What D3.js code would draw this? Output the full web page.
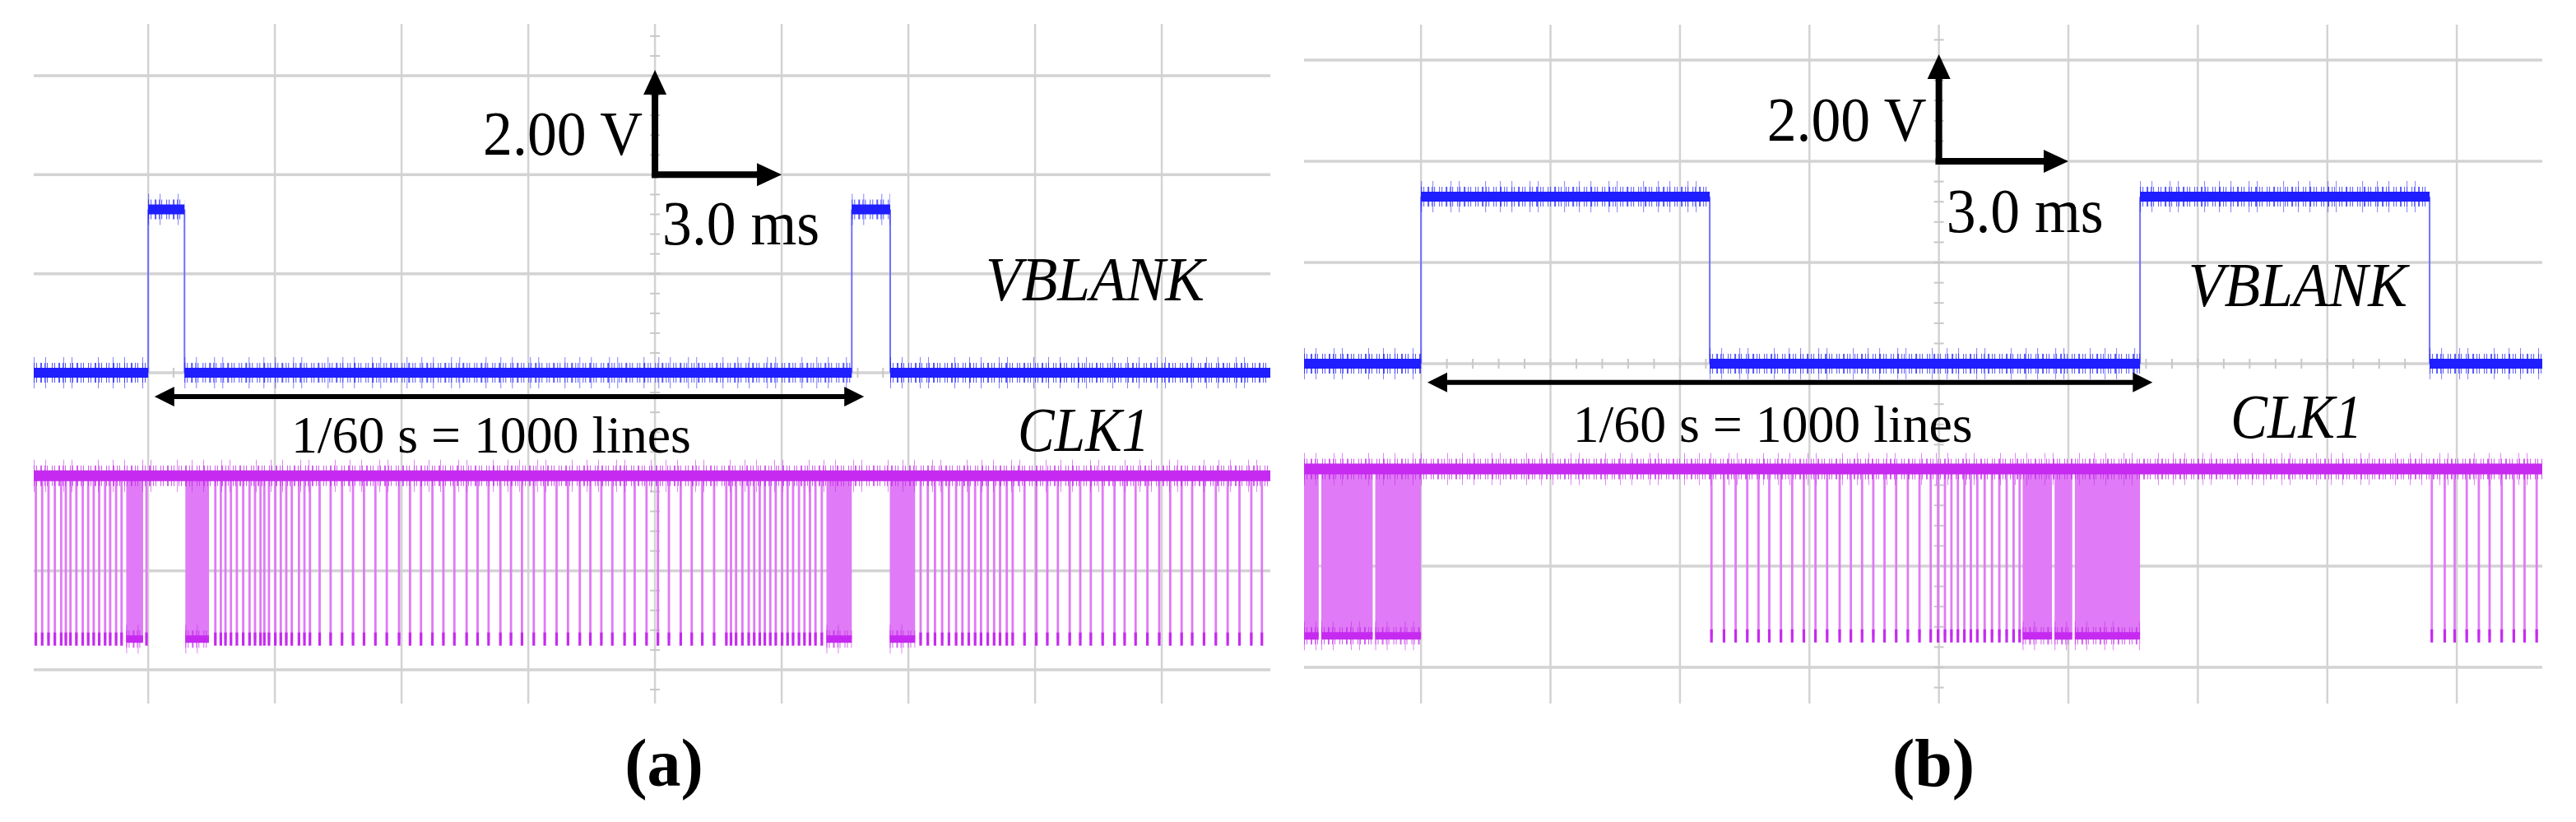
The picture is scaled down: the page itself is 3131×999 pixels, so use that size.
<!DOCTYPE html>
<html>
<head>
<meta charset="utf-8">
<script src="https://d3js.org/d3.v7.min.js"></script>
<style>
  body { margin: 0; background: #fff; }
  svg { display: block; }
  .lbl { font-family: "Liberation Serif", "Times New Roman", serif; fill: #000; }
</style>
</head>
<body>
<svg id="chart"></svg>
<script>
// times in ms (0 = VBLANK rising edge), voltages in V as placed on the scope screen
var vblankEdgesA = [0, 0.86, 16.66, 17.57];
var vblankEdgesB = [0, 6.69, 16.66, 23.37];
var logicLevels = [0, 3.3];      // low, high
var clkOffset = -5.38;           // CH2 position on screen

// single CLK1 low pulses
var clkPulsesA = [-2.66, -2.51, -2.36, -2.21, -2.06, -1.95, -1.84, -1.70, -1.55, -1.42, -1.29, -1.16, -1.02, -0.90, -0.76, -0.63, -0.04,
  1.59, 1.72, 1.83, 1.96, 2.10, 2.25, 2.40, 2.53, 2.66, 2.75, 2.86, 3.01, 3.14, 3.27, 3.40, 3.57, 3.70, 3.83,
  4.06, 4.32, 4.59, 4.85, 5.11, 5.38, 5.65, 5.94, 6.20, 6.46, 6.73, 6.99, 7.25, 7.54, 7.80, 8.06, 8.34, 8.59, 8.85,
  9.13, 9.39, 9.67, 9.94, 10.22, 10.47, 10.73, 10.99, 11.28, 11.52, 11.80, 12.07, 12.33, 12.61, 12.87, 13.12, 13.40,
  13.69, 13.80, 13.92, 14.07, 14.22, 14.35, 14.48, 14.60, 14.73, 14.86, 15.01, 15.14, 15.27, 15.41, 15.54, 15.67, 15.80, 15.95,
  18.29, 18.46, 18.63, 18.80, 18.96, 19.13, 19.28, 19.43, 19.58, 19.72, 19.88, 20.03, 20.17, 20.33, 20.47,
  20.75, 21.03, 21.29, 21.54, 21.82, 22.07, 22.32, 22.60, 22.88, 23.12, 23.38, 23.66, 23.94, 24.20, 24.47, 24.72,
  25.00, 25.28, 25.56, 25.84, 26.12, 26.37];
var clkPulsesB = [6.73, 7.02, 7.29, 7.56, 7.82, 8.07, 8.34, 8.60, 8.87, 9.14, 9.41, 9.70, 9.96, 10.22, 10.48, 10.74,
  11.01, 11.28, 11.55, 11.81, 11.98, 12.14, 12.29, 12.44, 12.59, 12.74, 12.89, 13.06, 13.23, 13.40, 13.57, 13.73, 13.87,
  23.42, 23.72, 23.95, 24.23, 24.51, 24.76, 25.04, 25.32, 25.57, 25.85];
// stretches where the pulses are too dense to separate
var clkBurstsA = [[-0.52, -0.12], [0.88, 1.44], [16.06, 16.66], [17.56, 18.16]];
var clkBurstsB = [[-2.71, -2.37], [-2.31, -1.12], [-1.06, 0], [13.94, 14.62], [14.68, 15.09], [15.15, 16.66]];

var frameSpan = [0.15, 16.95];
var voltDiv = 2, timeDiv = 3;
var scaleLabels = ["2.00 V", "3.0 ms"];
var spanLabel = "1/60 s = 1000 lines";
var channelNames = ["VBLANK", "CLK1"];
var panelNames = ["(a)", "(b)"];

var blue = "#1e1eff", blueEdge = "#7070ff";
var magenta = "#c62af0", magentaLight = "#e07af6";
var gridColor = "#d3d3d3";

var panels = [
  { x0: 41, x1: 1544, tDom: [-2.71, 26.57], y6: 92, yM6: 814, yTop: 29, yBot: 855,
    edges: vblankEdgesA, pulses: clkPulsesA, bursts: clkBurstsA, name: panelNames[0], nameX: 807,
    vblankAt: [19.83, 1.46], clkAt: [20.59, -1.58], spanV: -0.48, spanTextV: -1.61, spanTextT: 8.12 },
  { x0: 1585, x1: 3090, tDom: [-2.71, 25.98], y6: 73, yM6: 811, yTop: 30, yBot: 855,
    edges: vblankEdgesB, pulses: clkPulsesB, bursts: clkBurstsB, name: panelNames[1], nameX: 2350,
    vblankAt: [17.78, 1.14], clkAt: [18.76, -1.46], spanV: -0.37, spanTextV: -1.54, spanTextT: 8.15 }
];

var svg = d3.select("#chart").attr("width", 3131).attr("height", 999);

// split a trace into low/high stretches from its edge list (starts low)
var levelSegments = function(edges, t0, t1)
{
    var segs = [];
    var pts = [t0].concat(edges).concat([t1]);
    for (var i = 0; i < pts.length - 1; i++)
    {
        segs.push({ a: pts[i], b: pts[i + 1], high: i % 2 == 1 });
    }
    return segs;
}

// noisy trace band: solid core plus dashed fringes for the spikes
var drawBand = function(g, segs, x, yOf, color, core)
{
    var layers = [
        { w: core + 26, dash: "1 13 1 21 1 9 1 31 1 17", op: 0.55 },
        { w: core + 12, dash: "1 2 1 4 2 3 1 2 1 5", op: 0.75 },
        { w: core, dash: null, op: 1 }
    ];
    layers.forEach(function(l)
    {
        g.selectAll(null).data(segs).enter().append("line")
            .attr("x1", function(d) { return x(d.a); })
            .attr("x2", function(d) { return x(d.b); })
            .attr("y1", yOf).attr("y2", yOf)
            .attr("stroke", color)
            .attr("stroke-width", l.w)
            .attr("stroke-dasharray", l.dash)
            .attr("opacity", l.op);
    });
}

var arrowHead = function(g, tx, ty, dir, len, half)
{
    var pts;
    if (dir == "right") pts = [[tx, ty], [tx - len, ty - half], [tx - len, ty + half]];
    else if (dir == "left") pts = [[tx, ty], [tx + len, ty - half], [tx + len, ty + half]];
    else pts = [[tx, ty], [tx - half, ty + len], [tx + half, ty + len]];
    g.append("path").attr("d", d3.line()(pts) + "Z").attr("fill", "#000");
}

var addText = function(g, str, x, y, size, width, style, weight)
{
    var t = g.append("text").attr("class", "lbl")
        .attr("x", x).attr("y", y)
        .style("font-size", size + "px")
        .style("font-style", style || "normal")
        .style("font-weight", weight || "normal")
        .text(str);
    if (width) t.attr("textLength", width).attr("lengthAdjust", "spacingAndGlyphs");
    return t;
}

panels.forEach(function(p)
{
    var x = d3.scaleLinear().domain(p.tDom).range([p.x0, p.x1]);
    var y = d3.scaleLinear().domain([-6, 6]).range([p.yM6, p.y6]);
    var g = svg.append("g");

    // grid
    var grid = g.append("g");
    grid.selectAll(null).data(d3.range(0, p.tDom[1], timeDiv)).enter().append("line")
        .attr("x1", x).attr("x2", x).attr("y1", p.yTop).attr("y2", p.yBot)
        .attr("stroke", gridColor).attr("stroke-width", 2.5);
    grid.selectAll(null).data(d3.range(-6, 7, voltDiv)).enter().append("line")
        .attr("x1", p.x0).attr("x2", p.x1).attr("y1", y).attr("y2", y)
        .attr("stroke", gridColor).attr("stroke-width", 3.5);

    // minor ticks on the centre lines
    var vMin = y.invert(p.yBot), vMax = y.invert(p.yTop);
    var vTicks = d3.range(Math.ceil(vMin / 0.4), Math.floor(vMax / 0.4) + 1).map(function(k) { return k * 0.4; });
    grid.selectAll(null).data(vTicks).enter().append("line")
        .attr("x1", x(12) - 6).attr("x2", x(12) + 6).attr("y1", y).attr("y2", y)
        .attr("stroke", "#c8c8c8").attr("stroke-width", 2);
    var tTicks = d3.range(Math.ceil(p.tDom[0] / 0.6), Math.floor(p.tDom[1] / 0.6) + 1).map(function(k) { return k * 0.6; });
    grid.selectAll(null).data(tTicks).enter().append("line")
        .attr("x1", x).attr("x2", x).attr("y1", y(0) - 6).attr("y2", y(0) + 6)
        .attr("stroke", "#c8c8c8").attr("stroke-width", 2);

    // CLK1 trace
    var cHigh = y(logicLevels[1] + clkOffset), cLow = y(logicLevels[0] + clkOffset);
    var clk = g.append("g");
    clk.selectAll(null).data(p.bursts).enter().append("rect")
        .attr("x", function(d) { return x(d[0]); })
        .attr("width", function(d) { return x(d[1]) - x(d[0]); })
        .attr("y", cHigh).attr("height", cLow - cHigh)
        .attr("fill", magentaLight);
    clk.selectAll(null).data(p.pulses).enter().append("line")
        .attr("x1", x).attr("x2", x).attr("y1", cHigh).attr("y2", cLow)
        .attr("stroke", magentaLight).attr("stroke-width", 2.8);
    clk.selectAll(null).data(p.pulses).enter().append("line")
        .attr("x1", x).attr("x2", x).attr("y1", cLow - 8).attr("y2", cLow + 8)
        .attr("stroke", magenta).attr("stroke-width", 3.2);
    drawBand(clk, p.bursts.map(function(d) { return { a: d[0], b: d[1] }; }), x, cLow, magenta, 9);
    drawBand(clk, [{ a: p.tDom[0], b: p.tDom[1] }], x, cHigh, magenta, 13);

    // VBLANK trace
    var vb = g.append("g");
    var segs = levelSegments(p.edges, p.tDom[0], p.tDom[1]);
    var vy = function(d) { return y(d.high ? logicLevels[1] : logicLevels[0]); };
    vb.selectAll(null).data(p.edges).enter().append("line")
        .attr("x1", x).attr("x2", x)
        .attr("y1", y(logicLevels[0])).attr("y2", y(logicLevels[1]))
        .attr("stroke", blueEdge).attr("stroke-width", 2);
    drawBand(vb, segs, x, vy, blue, 12);

    // scale indicator arrows: one division each way
    var ax = x(12), ay = y(4);
    g.append("line").attr("x1", ax).attr("x2", ax).attr("y1", ay + 4).attr("y2", y(6) + 20)
        .attr("stroke", "#000").attr("stroke-width", 8);
    arrowHead(g, ax, y(6) - 7, "up", 30, 14);
    g.append("line").attr("x1", ax - 4).attr("x2", x(15) - 20).attr("y1", ay).attr("y2", ay)
        .attr("stroke", "#000").attr("stroke-width", 8);
    arrowHead(g, x(15), ay, "right", 30, 14);
    addText(g, scaleLabels[0], ax - 15 - 194, y(4.4), 77, 194);
    addText(g, scaleLabels[1], ax + 9, y(2.6), 76, 191);

    // frame period arrow
    var sy = y(p.spanV);
    g.append("line").attr("x1", x(frameSpan[0]) + 18).attr("x2", x(frameSpan[1]) - 18)
        .attr("y1", sy).attr("y2", sy).attr("stroke", "#000").attr("stroke-width", 6);
    arrowHead(g, x(frameSpan[0]), sy, "left", 24, 12);
    arrowHead(g, x(frameSpan[1]), sy, "right", 24, 12);
    addText(g, spanLabel, x(p.spanTextT), y(p.spanTextV), 64, 486).attr("text-anchor", "middle");

    // channel names
    addText(g, channelNames[0], x(p.vblankAt[0]), y(p.vblankAt[1]), 77, 266, "italic");
    addText(g, channelNames[1], x(p.clkAt[0]), y(p.clkAt[1]), 77, 160, "italic");

    // panel caption
    addText(g, p.name, p.nameX, 955, 82, null, "normal", "bold").attr("text-anchor", "middle");
});
</script>
</body>
</html>
